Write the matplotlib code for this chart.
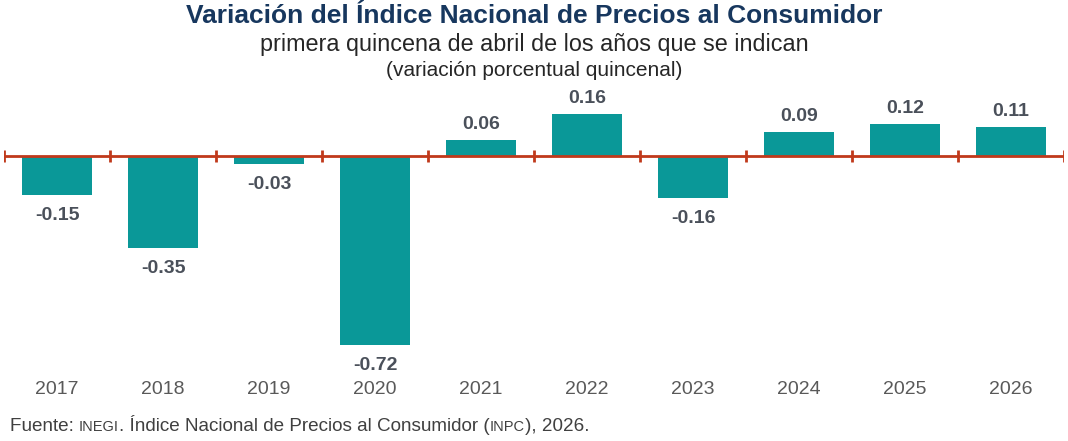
import numpy as np
import matplotlib.pyplot as plt

plt.rcParams['font.family'] = ['Liberation Sans', 'DejaVu Sans']

# datos
years = ['2017', '2018', '2019', '2020', '2021', '2022', '2023', '2024', '2025', '2026']
values = [-0.15, -0.35, -0.03, -0.72, 0.06, 0.16, -0.16, 0.09, 0.12, 0.11]

bar_color = '#0A9898'
axis_color = '#C0391B'
label_color = '#4A505A'
year_color = '#595959'
title_color = '#17375E'

fig = plt.figure(figsize=(10.68, 4.41), dpi=100)
W, H = 1068, 441
ax = fig.add_axes([4/W, 1 - 375/H, 1060/W, 290/H])

x = np.arange(len(years))
ax.bar(x, values, width=0.66, color=bar_color, zorder=2)
ax.axhline(0, color=axis_color, lw=2, zorder=3)
ax.vlines(x[:-1] + 0.5, -0.024, 0.024, color=axis_color, lw=2, zorder=3)
ax.vlines([x[0] - 0.5, x[-1] + 0.5], -0.024, 0.024, color=axis_color, lw=2, zorder=3)

ax.set_xlim(-0.5, len(years) - 0.5)
ax.set_ylim(-0.833, 0.270)

for xi, v in zip(x, values):
    if v >= 0:
        ax.annotate(f'{v:.2f}', (xi, v), xytext=(0, 5), textcoords='offset points',
                    ha='center', va='bottom', fontsize=14, fontweight='bold', color=label_color)
    else:
        ax.annotate(f'{v:.2f}', (xi, v), xytext=(0, -8.5), textcoords='offset points',
                    ha='center', va='top', fontsize=14, fontweight='bold', color=label_color)

ax.set_xticks(x)
ax.set_xticklabels(years, fontsize=14, color=year_color)
ax.tick_params(axis='x', length=0, pad=4.5)
ax.set_yticks([])
for s in ax.spines.values():
    s.set_visible(False)

fig.text(0.5, 1 - 16/H, 'Variación del Índice Nacional de Precios al Consumidor', ha='center', va='center',
         fontsize=19, fontweight='bold', color=title_color)
fig.text(0.5, 1 - 45/H, 'primera quincena de abril de los años que se indican', ha='center', va='center',
         fontsize=16.8, color='#262626')
fig.text(0.5, 1 - 70/H, '(variación porcentual quincenal)', ha='center', va='center',
         fontsize=15, color='#262626')

# nota al pie con versalitas simuladas
pieces = [('Fuente: ', 13.6), ('INEGI', 10.5), ('. Índice Nacional de Precios al Consumidor (', 13.6),
          ('INPC', 10.5), ('), 2026.', 13.6)]
renderer = fig.canvas.get_renderer()
xpos = 10 / W
for txt, fs in pieces:
    t = fig.text(xpos, 1 - 431/H, txt, ha='left', va='baseline', fontsize=fs, color='#404040')
    bb = t.get_window_extent(renderer=renderer)
    xpos += bb.width / W

fig.savefig('out.png', dpi=100)
